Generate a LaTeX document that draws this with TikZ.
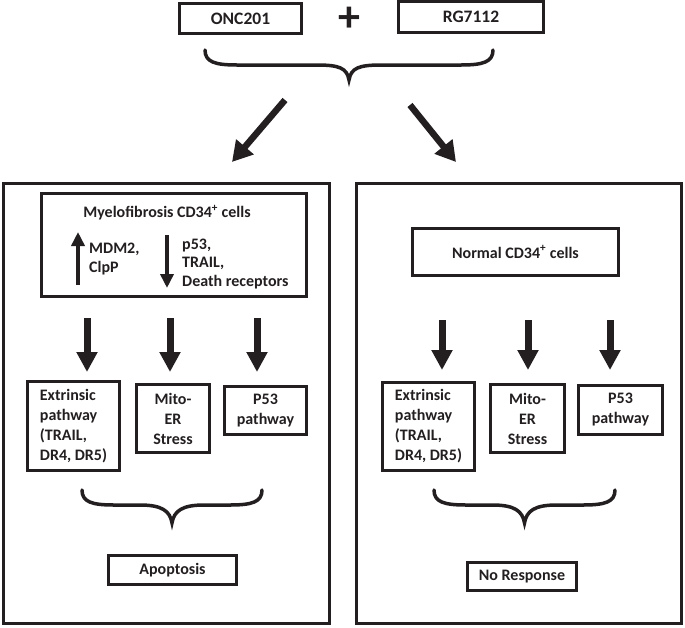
\documentclass[tikz,border=0pt]{standalone}
\usepackage{fontspec}
\setmainfont{Carlito}
\usetikzlibrary{arrows.meta}
\definecolor{ink}{RGB}{35, 31, 32}

% brace pointing down: x left, x right, y top, y tip
\newcommand{\curlybrace}[4]{%
  \pgfmathsetmacro{\bmid}{(#1+#2)/2}
  \draw[brace] (#1,#3) .. controls (#1,#3+12) and (#1+10,#3+15) .. (#1+32,#3+15)
               -- (\bmid-32,#3+15) .. controls (\bmid-10,#3+15) and (\bmid-2,#4-12) .. (\bmid,#4)
               .. controls (\bmid+2,#4-12) and (\bmid+10,#3+15) .. (\bmid+32,#3+15)
               -- (#2-32,#3+15) .. controls (#2-10,#3+15) and (#2,#3+12) .. (#2,#3);}

\tikzset{
  box/.style       = {draw=ink, line width=3pt, inner sep=0pt, text=ink, align=center,
                      font=\fontsize{16}{20}\selectfont\bfseries},
  panel/.style     = {draw=ink, line width=3pt, inner sep=0pt},
  note/.style      = {inner sep=0pt, text=ink, align=left, font=\fontsize{16}{18.5}\selectfont\bfseries},
  brace/.style     = {draw=ink, line width=3.5pt, line cap=round},
  fatarrow/.style  = {draw=ink, line width=7pt, -{Triangle[width=20pt, length=20pt]}},
  slantarrow/.style= {draw=ink, line width=6.5pt, -{Triangle[width=22pt, length=20pt]}},
  thinarrow/.style = {draw=ink, line width=4pt, -{Triangle[width=13pt, length=14pt]}}
}

\begin{document}
\begin{tikzpicture}[x=1pt, y=-1pt]
            \useasboundingbox (0,0) rectangle (685,627);

            % drugs
            \node[box, minimum width=122, minimum height=30, font=\fontsize{17.5}{20}\selectfont\bfseries] (onc)  at (240.5, 18.5) {ONC201};
            \node[box, minimum width=145, minimum height=31, font=\fontsize{17.5}{20}\selectfont\bfseries] (rg)   at (471.0, 17.0) {RG7112};
            \node[inner sep=0pt, text=ink, font=\fontsize{44}{44}\selectfont\bfseries]                       (plus) at (349.0, 19.5) {+};
            \curlybrace{205}{493}{50}{80}

            \coordinate (toLeftA)  at (285,100);   \coordinate (toLeftB)  at (232,162);
            \coordinate (toRightA) at (410,105);   \coordinate (toRightB) at (456,162);
            \draw[slantarrow] (toLeftA)  -- (toLeftB);
            \draw[slantarrow] (toRightA) -- (toRightB);

            % panels
            \node[panel, minimum width=326, minimum height=440] (leftpanel)  at (166.5,403.5) {};
            \node[panel, minimum width=325, minimum height=440] (rightpanel) at (519.0,403.5) {};

            % myelofibrosis side
            \node[box, minimum width=265, minimum height=103] (myelo) at (174,245) {};
            \node[note] (myelotitle) at (167,213) {Myelofibrosis CD34\textsuperscript{+} cells};
            \coordinate (upA) at (78,285);   \coordinate (upB) at (78,232);
            \coordinate (dnA) at (167,235);  \coordinate (dnB) at (167,288);
            \draw[thinarrow] (upA) -- (upB);
            \draw[thinarrow] (dnA) -- (dnB);
            \node[note, anchor=west] (upregs)   at (89,259)  {MDM2,\\ClpP};
            \node[note, anchor=west] (downregs) at (182,264) {p53,\\TRAIL,\\Death receptors};

            \foreach \x [count=\i] in {87,170,257} {
              \coordinate (mfTop\i) at (\x,318);
              \coordinate (mfEnd\i) at (\x,372);
              \draw[fatarrow] (mfTop\i) -- (mfEnd\i);
            }
            \node[box, minimum width=92, minimum height=89, align=left] (extrL) at ( 73.5,426.0) {Extrinsic\\pathway\\(TRAIL,\\DR4, DR5)};
            \node[box, minimum width=73, minimum height=68]             (mitoL) at (173.0,418.5) {Mito-\\ER\\Stress};
            \node[box, minimum width=82, minimum height=48]             (p53L)  at (265.5,410.5) {P53\\pathway};
            \curlybrace{82}{262}{490}{523}
            \node[box, minimum width=128, minimum height=29]            (apop)  at (172.5,570.0) {Apoptosis};

            % normal side
            \node[box, minimum width=206, minimum height=47] (normal) at (515.5,252) {Normal CD34\textsuperscript{+} cells};
            \foreach \x [count=\i] in {442,528,610} {
              \coordinate (nmTop\i) at (\x,320);
              \coordinate (nmEnd\i) at (\x,370);
              \draw[fatarrow] (nmTop\i) -- (nmEnd\i);
            }
            \node[box, minimum width=92, minimum height=88, align=left] (extrR) at (428.5,426.5) {Extrinsic\\pathway\\(TRAIL,\\DR4, DR5)};
            \node[box, minimum width=74, minimum height=68]             (mitoR) at (527.5,418.5) {Mito-\\ER\\Stress};
            \node[box, minimum width=84, minimum height=49]             (p53R)  at (620.5,410.0) {P53\\pathway};
            \curlybrace{434}{615}{490}{523}
            \node[box, minimum width=109, minimum height=28]            (noresp) at (522.0,576.5) {No Response};
\end{tikzpicture}
\end{document}
